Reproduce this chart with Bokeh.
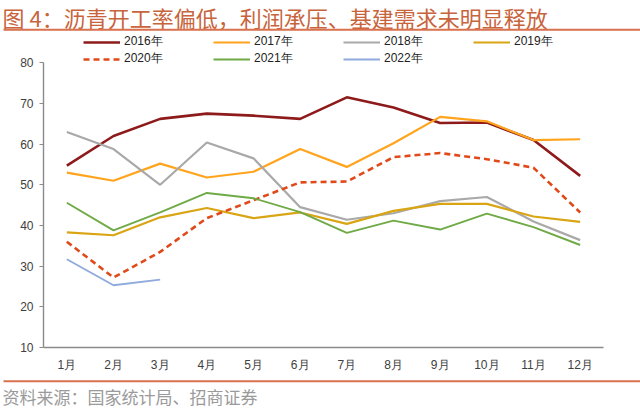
from bokeh.plotting import figure
from bokeh.layouts import column
from bokeh.models import Legend, LegendItem, Range1d, FixedTicker
from bokeh.core.properties import value
from bokeh.embed import file_html
from bokeh.resources import INLINE

months = ["1月", "2月", "3月", "4月", "5月", "6月", "7月", "8月", "9月", "10月", "11月", "12月"]
y2016 = [54.7, 62.0, 66.2, 67.5, 67.0, 66.2, 71.5, 69.0, 65.2, 65.3, 61.0, 52.2]
y2017 = [53.0, 51.0, 55.2, 51.8, 53.2, 58.8, 54.4, 60.2, 66.7, 65.6, 61.0, 61.2]
y2018 = [63.0, 58.8, 50.0, 60.4, 56.5, 44.5, 41.4, 43.0, 46.0, 47.0, 41.0, 36.4]
y2019 = [38.3, 37.6, 42.0, 44.3, 41.8, 43.2, 40.4, 43.6, 45.3, 45.3, 42.2, 40.9]
y2020 = [36.0, 27.2, 33.5, 41.8, 46.2, 50.6, 50.8, 56.8, 57.8, 56.3, 54.2, 43.2]
y2021 = [45.6, 38.8, 43.2, 48.0, 46.7, 43.3, 38.2, 41.2, 39.0, 42.9, 39.6, 35.2]
y2022 = [31.7, 25.3, 26.7]
series_names = ["2016年", "2017年", "2018年", "2019年", "2020年", "2021年", "2022年"]
y_ticks = [10, 20, 30, 40, 50, 60, 70, 80]
title_text = "图 4：沥青开工率偏低，利润承压、基建需求未明显释放"
source_text = "资料来源：国家统计局、招商证券"

W = 640
HEAD_H, MAIN_H, FOOT_H = 32, 342, 36
RULE_COLOR = "#D9714E"


def blank(h):
    f = figure(width=W, height=h, output_backend="svg", toolbar_location=None,
               x_range=Range1d(0, W), y_range=Range1d(h, 0),
               min_border=0, min_border_left=0, min_border_right=0,
               min_border_top=0, min_border_bottom=0, frame_align=False)
    f.axis.visible = False
    f.grid.visible = False
    f.outline_line_color = None
    f.background_fill_color = "white"
    f.border_fill_color = "white"
    return f


# header
head = blank(HEAD_H)
head.text(x=[2], y=[16], text=[title_text], text_font=value("Noto Sans CJK SC"),
          text_font_size="22px", text_color="#C8643C", text_baseline="middle")
head.segment(x0=[3], y0=[29.3], x1=[W], y1=[29.3], line_color=RULE_COLOR, line_width=2)

# main chart
FL, FR = 43, 37
Y80, Y10 = 62.3, 347.3          # page pixel rows of the 80 and 10 gridlines
FB = HEAD_H + MAIN_H - Y10
px_per_unit = (Y10 - Y80) / 70.0
y_top = 80 + (Y80 - HEAD_H) / px_per_unit

p = figure(width=W, height=MAIN_H, output_backend="svg", toolbar_location=None,
           x_range=Range1d(0.5, 12.5), y_range=Range1d(10, y_top),
           min_border_left=FL, min_border_right=FR, min_border_top=0,
           min_border_bottom=int(round(FB)), frame_align=False)
p.outline_line_color = None
p.xgrid.visible = False
p.ygrid.visible = False
p.background_fill_color = "white"
p.border_fill_color = "white"

x_all = list(range(1, 13))
styles = [
    (y2016, "#8E1B1B", 2.6, "solid"),
    (y2017, "#FFA41C", 2.2, "solid"),
    (y2018, "#A9A9A9", 2.2, "solid"),
    (y2019, "#D9A514", 2.2, "solid"),
    (y2020, "#E04A1A", 2.6, "6 4"),
    (y2021, "#6FAA46", 1.9, "solid"),
    (y2022, "#8FAADC", 1.9, "solid"),
]
items = []
for (ys, col, lw, dash), name in zip(styles, series_names):
    r = p.line(x_all[:len(ys)], ys, line_color=col, line_width=lw, line_dash=dash)
    items.append(LegendItem(label=name, renderers=[r]))

for ax in (p.xaxis[0], p.yaxis[0]):
    ax.axis_line_color = "#8A8A8A"
    ax.axis_line_width = 1.4
    ax.major_label_text_font = "Liberation Sans"
    ax.major_label_text_font_size = "12px"
    ax.major_label_text_color = "#404040"
    ax.minor_tick_line_color = None
p.xaxis.ticker = FixedTicker(ticks=x_all)
p.xaxis.major_label_overrides = {i + 1: m for i, m in enumerate(months)}
p.xaxis.major_tick_line_color = None
p.xaxis.major_label_standoff = 4
p.yaxis.ticker = FixedTicker(ticks=y_ticks)
p.yaxis.bounds = (10, 80)
p.yaxis.major_tick_line_color = "#8A8A8A"
p.yaxis.major_tick_out = 4
p.yaxis.major_tick_in = 0
p.yaxis.major_label_standoff = 6

legend_bottom_page = 67.7
legend = Legend(items=items, orientation="horizontal", ncols=4,
                location=(40, Y10 - legend_bottom_page), padding=0, margin=0, spacing=0,
                glyph_width=37, glyph_height=14, label_height=14, label_width=89,
                label_standoff=4, border_line_color=None, background_fill_alpha=0,
                label_text_font="Liberation Sans", label_text_font_size="12px",
                label_text_color="#222222")
p.add_layout(legend, "center")

# footer
foot = blank(FOOT_H)
foot.segment(x0=[3], y0=[380.7 - HEAD_H - MAIN_H], x1=[W], y1=[380.7 - HEAD_H - MAIN_H],
             line_color=RULE_COLOR, line_width=2)
foot.text(x=[2], y=[395.5 - HEAD_H - MAIN_H], text=[source_text],
          text_font=value("Noto Sans CJK SC"), text_font_size="17px",
          text_color="#9A9A9A", text_baseline="middle")

layout = column(head, p, foot, spacing=0)
open("out.html", "w").write(file_html(layout, INLINE))
